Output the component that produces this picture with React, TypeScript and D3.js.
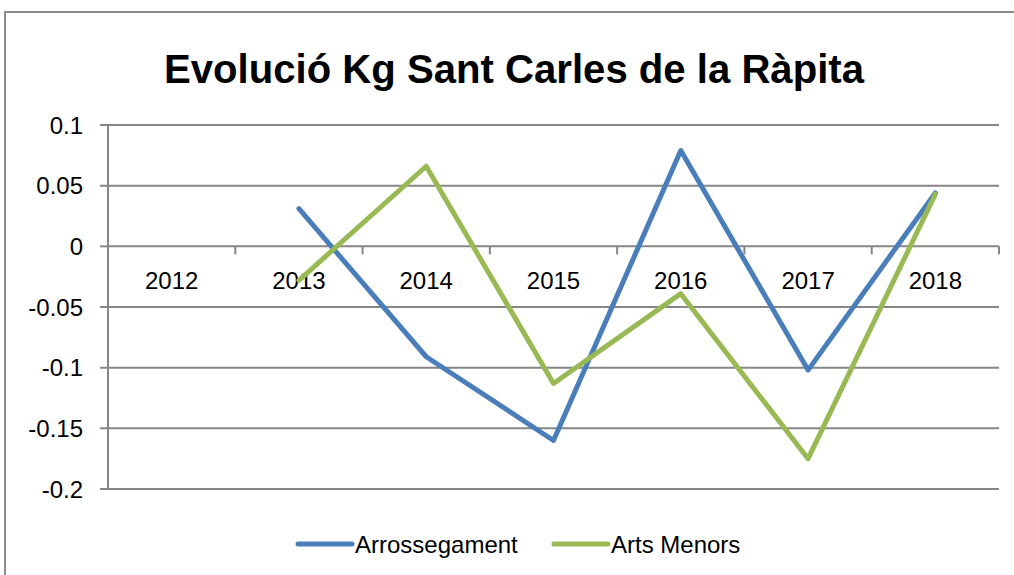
import React from "react";
import * as d3 from "d3";

const years = ["2012", "2013", "2014", "2015", "2016", "2017", "2018"];
const arrossegament: (number | null)[] = [null, 0.031, -0.091, -0.16, 0.079, -0.102, 0.044];
const artsMenors: (number | null)[] = [null, -0.028, 0.066, -0.113, -0.039, -0.175, 0.043];
const yTicks = [0.1, 0.05, 0, -0.05, -0.1, -0.15, -0.2];
const yTickLabels = ["0.1", "0.05", "0", "-0.05", "-0.1", "-0.15", "-0.2"];
const seriesNames = ["Arrossegament", "Arts Menors"];
const seriesColors = ["#4a7ebb", "#98b954"];

const W = 1014;
const H = 575;
const left = 108;
const right = 999;
const top = 125;
const bottom = 489;
const FONT = "'Liberation Sans', Arial, sans-serif";

export default function App() {
  const x = d3.scaleBand<string>().domain(years).range([left, right]);
  const y = d3.scaleLinear().domain([-0.2, 0.1]).range([bottom, top]);
  const cx = (yr: string) => (x(yr) ?? 0) + x.bandwidth() / 2;

  const line = d3
    .line<number | null>()
    .defined((d) => d !== null)
    .x((_, i) => cx(years[i]))
    .y((d) => y(d as number));

  const series = [arrossegament, artsMenors];
  const boundaries = years.map((yr) => x(yr) ?? 0).concat([right]);
  const gridColor = "#868686";

  return (
    <svg
      width={W}
      height={H}
      style={{ position: "absolute", left: 0, top: 0, background: "#fff" }}
      fontFamily={FONT}
    >
      <rect x={0} y={0} width={W} height={H} fill="#fff" />
      {/* outer frame */}
      <path d={`M5,${H} V12 H${W}`} fill="none" stroke="#8c8c8c" strokeWidth={2} />

      {/* title */}
      <text
        x={514}
        y={83}
        textAnchor="middle"
        fontSize={41}
        fontWeight="bold"
        fill="#000"
        textLength={700}
        lengthAdjust="spacingAndGlyphs"
      >
        Evolució Kg Sant Carles de la Ràpita
      </text>

      {/* gridlines + y ticks */}
      {yTicks.map((t, i) => (
        <g key={t}>
          {t !== 0 && (
            <line x1={left - 8} x2={right} y1={y(t)} y2={y(t)} stroke={gridColor} strokeWidth={2} />
          )}
          {t === 0 && (
            <line x1={left - 8} x2={left} y1={y(t)} y2={y(t)} stroke={gridColor} strokeWidth={2} />
          )}
          <text
            x={83}
            y={y(t)}
            textAnchor="end"
            dominantBaseline="central"
            fontSize={24}
            fill="#000"
          >
            {yTickLabels[i]}
          </text>
        </g>
      ))}

      {/* y axis */}
      <line x1={left} x2={left} y1={top} y2={bottom} stroke={gridColor} strokeWidth={2} />

      {/* x axis at zero */}
      <line x1={left} x2={right} y1={y(0)} y2={y(0)} stroke={gridColor} strokeWidth={2} />
      {boundaries.map((b, i) => (
        <line key={i} x1={b} x2={b} y1={y(0)} y2={y(0) + 8} stroke={gridColor} strokeWidth={2} />
      ))}
      {years.map((yr) => (
        <text key={yr} x={cx(yr)} y={289} textAnchor="middle" fontSize={24} fill="#000">
          {yr}
        </text>
      ))}

      {/* series */}
      {series.map((s, i) => (
        <path
          key={i}
          d={line(s) ?? ""}
          fill="none"
          stroke={seriesColors[i]}
          strokeWidth={5}
          strokeLinejoin="round"
          strokeLinecap="round"
        />
      ))}

      {/* legend */}
      {seriesNames.map((n, i) => {
        const lx = i === 0 ? 298 : 554;
        return (
          <g key={n}>
            <line
              x1={lx}
              x2={lx + 54}
              y1={544}
              y2={544}
              stroke={seriesColors[i]}
              strokeWidth={5}
              strokeLinecap="round"
            />
            <text x={lx + 57} y={544} dominantBaseline="central" fontSize={24} fill="#000">
              {n}
            </text>
          </g>
        );
      })}
    </svg>
  );
}
